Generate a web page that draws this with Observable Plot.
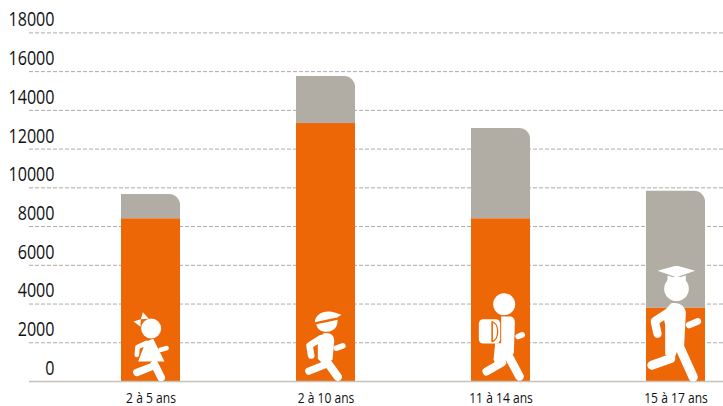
<!DOCTYPE html>
<html><head><meta charset="utf-8">
<script src="https://cdn.jsdelivr.net/npm/d3@7"></script>
<script src="https://cdn.jsdelivr.net/npm/@observablehq/plot@0.6"></script>
<style>html,body{margin:0;padding:0;background:#fff}svg{display:block}</style>
</head><body><div id="chart"></div>
<script>
const categories = ["2 à 5 ans", "2 à 10 ans", "11 à 14 ans", "15 à 17 ans"];
const orangeValues = [8400, 13320, 8400, 3780];
const totalValues = [9660, 15750, 13070, 9820];
const yTicks = [0, 2000, 4000, 6000, 8000, 10000, 12000, 14000, 16000, 18000];

const ORANGE = "#ed6707", GREY = "#b1aca4", BG = "#ed6707";
const wrap = (vb, body) => "data:image/svg+xml;utf8," + encodeURIComponent(
  `<svg xmlns="http://www.w3.org/2000/svg" viewBox="${vb}"><g fill="#fff" stroke-linecap="round" stroke-linejoin="round">${body}</g></svg>`);
const ln = (d, w) => `<path d="${d}" fill="none" stroke="#fff" stroke-width="${w}"/>`;

const icons = [
  { w: 59, h: 73.3, src: wrap("363 380 177 220",
    `<circle cx="452" cy="441" r="30"/>
     <path d="M421 413L399 420L420 436Z M421 413L427 392L445 412Z"/>
     <path d="M458 472L492 540H413L428 500L432 482Z"/>
     ${ln("M438 484L411 497L409 520", 14)}
     ${ln("M480 505L498 500", 14)}
     ${ln("M409 573L452 556", 22)}
     ${ln("M462 548L482 588", 23)}`) },
  { w: 59, h: 75, src: wrap("78 75 177 225",
    `<path d="M133 120C135 100 155 88 178 90C190 92 200 95 213 100L200 108C180 112 155 118 133 122Z"/>
     <path d="M137 128C155 126 180 120 201 115C203 135 190 150 170 151C152 152 140 142 137 128Z"/>
     <path d="M160 155C180 152 192 162 191 180L186 235L160 250L142 232L142 172Z"/>
     ${ln("M152 170L117 192L122 222", 20)}
     ${ln("M198 200L217 193", 17)}
     ${ln("M115 269L162 250", 22)}
     ${ln("M165 235L202 286", 25)}`) },
  { w: 59, h: 90, src: wrap("606 30 177 270",
    `<circle cx="704" cy="68" r="33"/>
     <path d="M695 105H725C735 108 737 118 736 130L733 215L712 235L680 250L672 235L677 185L695 185Z"/>
     <rect x="628" y="113" width="64" height="73" rx="13"/>
     <path d="M668 121C690 125 690 175 668 180Z" fill="none" stroke="${BG}" stroke-width="4"/>
     <path d="M668 121V180" fill="none" stroke="${BG}" stroke-width="3"/>
     ${ln("M746 165L758 160", 17)}
     ${ln("M651 270L698 243", 24)}
     ${ln("M718 225L750 285", 26)}`) },
  { w: 59, h: 116, src: wrap("52 252 177 349",
    `<path d="M85 268L142 252L198 268L142 287Z"/>
     <path d="M115 282L142 290L170 282V305H115Z"/>
     <circle cx="142" cy="322" r="37"/>
     <path d="M125 366C150 360 170 375 170 395L165 492L150 492L135 535L108 520L108 430L100 395Z"/>
     ${ln("M115 395L77 420L85 457", 25)}
     ${ln("M180 431L206 420", 20)}
     ${ln("M68 552L125 532", 27)}
     ${ln("M148 490L192 588", 28)}`) }
];

const rows = categories.map((c, i) => ({ c, a: orangeValues[i], t: totalValues[i] }));

const plot = Plot.plot({
  width: 723, height: 406,
  marginLeft: 29, marginRight: 0, marginTop: 32.4, marginBottom: 25,
  style: { background: "#fff", fontFamily: "'Open Sans',sans-serif" },
  x: { domain: categories, paddingInner: 0.663, paddingOuter: 0.311, align: 0.84, label: null },
  y: { domain: [0, 18000], label: null },
  marks: [
    Plot.ruleY(yTicks.filter(d => d > 0), { stroke: "#aeaba5", strokeWidth: 1, strokeDasharray: "4,2" }),
    Plot.barY(rows, { x: "c", y1: "a", y2: "t", fill: GREY, rx2y1: 11 }),
    Plot.barY(rows, { x: "c", y1: 0, y2: "a", fill: ORANGE }),
    Plot.ruleY([0], { stroke: "#c6c1b9", strokeWidth: 1.5 }),
    ...icons.map((ic, i) => Plot.image([categories[i]], {
      x: d => d, y: () => 0, src: () => ic.src, width: ic.w, height: ic.h,
      dy: -ic.h / 2, preserveAspectRatio: "none"
    })),
    Plot.axisY({ ticks: yTicks, tickSize: 0, tickPadding: 0, tickFormat: d => String(d), fontSize: 20,
      fill: "#111", dx: 25, dy: -13, label: null }),
    Plot.axisX({ tickSize: 0, tickPadding: 11, fontSize: 15, fill: "#111", label: null })
  ]
});
document.getElementById("chart").append(plot);
// the reference's type is condensed: narrow the real text elements to the same width
d3.select(plot).selectAll("text").each(function () {
  const len = this.getComputedTextLength();
  this.setAttribute("textLength", (len * 0.805).toFixed(1));
  this.setAttribute("lengthAdjust", "spacingAndGlyphs");
});
</script></body></html>
